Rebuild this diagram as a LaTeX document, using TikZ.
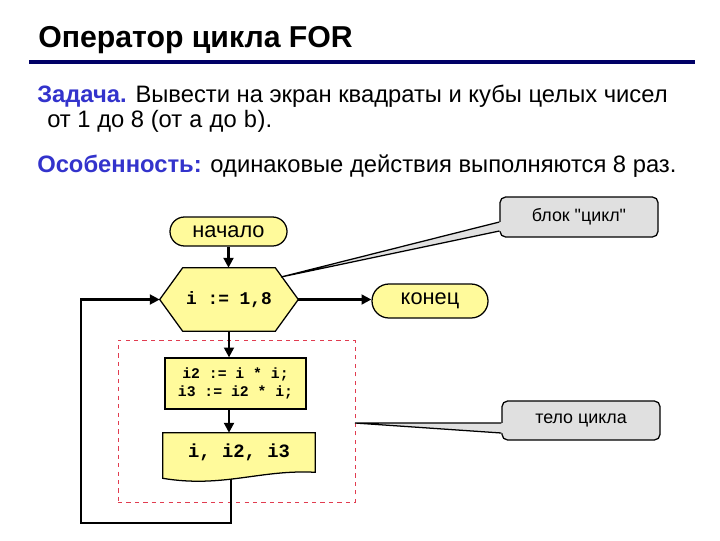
\documentclass[tikz,border=0pt]{standalone}
\usepackage{fontspec}
\setmainfont{Liberation Sans}
\setmonofont{Liberation Mono}
\newfontfamily\notefont{Liberation Sans}[Ligatures=TeXOff]
\usetikzlibrary{arrows.meta,positioning,shapes.misc,calc,backgrounds}
\definecolor{flowyellow}{RGB}{255,250,155}
\definecolor{notegray}{RGB}{224,224,224}
\definecolor{navy}{RGB}{0,0,102}
\definecolor{labelblue}{RGB}{51,51,204}
\definecolor{framered}{RGB}{225,60,80}

\begin{document}
\begin{tikzpicture}[x=0.025cm,y=-0.025cm,every node/.style={inner sep=0pt,font=\fontsize{16.9}{20}\selectfont},
  flow/.style={line width=1.6pt,-{Triangle[length=7pt,width=7pt]}},
  term/.style={rounded rectangle,draw,line width=0.9pt,fill=flowyellow,font=\fontsize{15.5}{18}\selectfont},
  shade/.style={draw,line width=0.9pt,fill=flowyellow},
  note/.style={draw,line width=0.9pt,fill=notegray,rounded corners=4pt,minimum width=3.95cm,minimum height=1cm,font=\notefont\fontsize{12.7}{15}\selectfont},
  code/.style={font=\ttfamily\bfseries\fontsize{12.7}{15}\selectfont}]
\useasboundingbox (0,0) rectangle (720,540);
\node[anchor=base west,font=\fontsize{21.5}{26}\selectfont\bfseries] (title) at (38,47) {Оператор цикла FOR};
\draw[navy,line width=2.2pt] (29,62) -- (695,62);
\node[anchor=base west] (task) at (37,102) {\textcolor{labelblue}{\textbf{Задача.}} Вывести на экран квадраты и кубы целых чисел};
\node[anchor=base west] (range) at (47,127) {от 1 до 8 (от \texttt{a} до \texttt{b}).};
\node[anchor=base west] (feat) at (37,172) {\textcolor{labelblue}{\textbf{Особенность:}} одинаковые действия выполняются 8 раз.};
\node[term,minimum width=2.925cm,minimum height=0.725cm] (start) at (228.5,231.5) {начало};
\node[code,minimum width=3.45cm,minimum height=1.575cm] (hex) at (229,299.5) {i := 1,8};
\node[term,minimum width=2.9cm,minimum height=0.85cm] (stop) at (430,301) {конец};
\node[shade,code,align=center,font=\ttfamily\bfseries\fontsize{10.5}{13}\selectfont,minimum width=3.525cm,minimum height=1.275cm] (square) at (235.5,383.5) {i2 := i * i;\\i3 := i2 * i;};
\node[code,font=\ttfamily\bfseries\fontsize{13.4}{16}\selectfont,minimum width=3.8cm,minimum height=0.975cm] (out) at (239,452.5) {i, i2, i3};
\node[draw=framered,dashed,line width=0.6pt,minimum width=5.925cm,minimum height=4.05cm] (body) at (236.5,421) {};
\node[note] (loopnote) at (579,217) {блок "цикл"};
\node[note,minimum height=0.975cm] (bodynote) at (581,420.5) {тело цикла};
\begin{scope}[on background layer]
\draw[shade] (hex.west) -- ($(hex.north west)+(23,0)$) -- ($(hex.north east)+(-23,0)$) -- (hex.east) -- ($(hex.south east)+(-23,0)$) -- ($(hex.south west)+(23,0)$) -- cycle;
\draw[shade] (out.north west) -- (out.north east) -- (out.south east) .. controls ($(out.south east)+(-55,-3)$) and ($(out.south west)+(60,16)$) .. ($(out.south west)+(0,6)$) -- cycle;
\end{scope}
\coordinate (tipA) at (281,277);
\coordinate (tipB) at (355,423);
\fill[notegray] (tipA) -- ($(loopnote.west)+(0,5)$) -- ($(loopnote.west)+(2,5)$) -- ($(loopnote.west)+(2,14)$) -- ($(loopnote.west)+(0,14)$) -- cycle;
\draw[line width=0.9pt] ($(loopnote.west)+(0,5)$) -- (tipA) -- ($(loopnote.west)+(0,14)$);
\fill[notegray] (tipB) -- ($(bodynote.west)+(0,2.5)$) -- ($(bodynote.west)+(2,2.5)$) -- ($(bodynote.west)+(2,12.5)$) -- ($(bodynote.west)+(0,12.5)$) -- cycle;
\draw[line width=0.9pt] ($(bodynote.west)+(0,2.5)$) -- (tipB) -- ($(bodynote.west)+(0,12.5)$);
\draw[flow] (start.south) -- (start.south |- hex.north);
\draw[flow] (hex.east) -- (hex.east -| stop.west);
\draw[flow] (hex.south) -- (hex.south |- square.north);
\draw[flow] (hex.south |- square.south) -- (hex.south |- out.north);
\coordinate (outb) at (231,479);
\coordinate (back) at (81,523);
\draw[flow] (outb) |- (back) |- (hex.west);
\end{tikzpicture}
\end{document}
